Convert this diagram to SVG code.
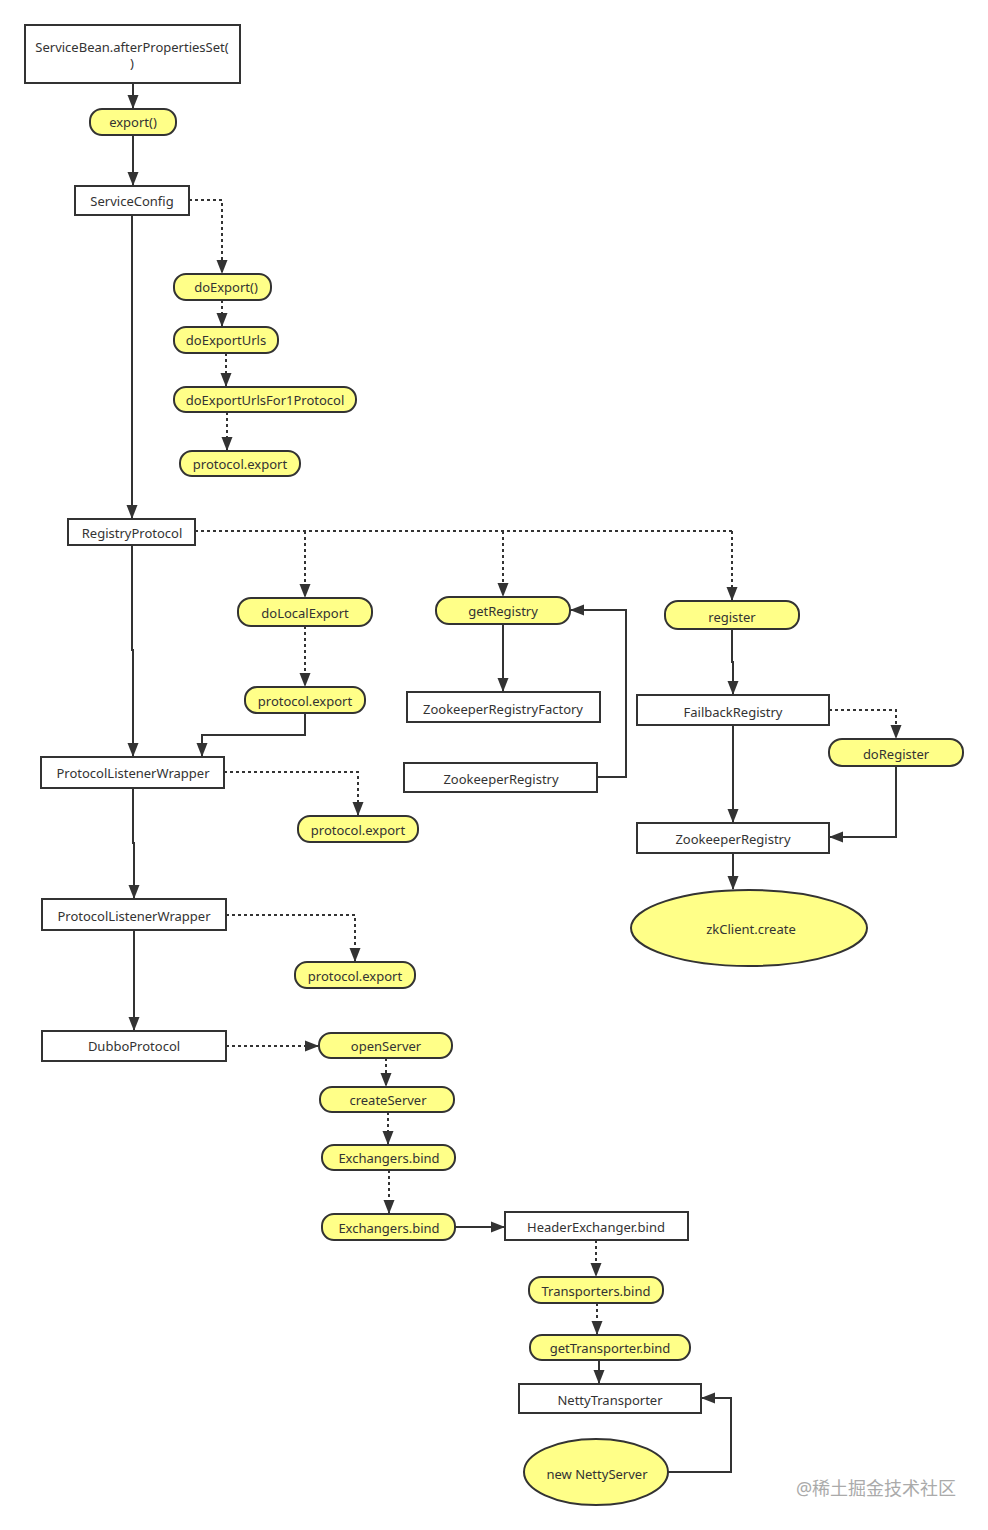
<svg xmlns="http://www.w3.org/2000/svg" width="988" height="1530" viewBox="0 0 988 1530">
<defs>
<marker id="ah" viewBox="0 0 14 12" refX="13" refY="6" markerWidth="14" markerHeight="12" markerUnits="userSpaceOnUse" orient="auto"><path d="M0,0.5 L14,6 L0,11.5 Z" fill="#333"/></marker>
</defs>
<style>
.box{fill:#fff;stroke:#333;stroke-width:2}
.yel{fill:#ffff88;stroke:#333;stroke-width:2}
.t{font-family:"Noto Sans","Open Sans",sans-serif;font-size:13px;fill:#333;text-anchor:middle;dominant-baseline:central}
.s{fill:none;stroke:#333;stroke-width:2;marker-end:url(#ah)}
.d{fill:none;stroke:#333;stroke-width:2;stroke-dasharray:3 3;marker-end:url(#ah)}
.n{fill:none;stroke:#333;stroke-width:2}
.dn{fill:none;stroke:#333;stroke-width:2;stroke-dasharray:3 3}
</style>
<rect width="988" height="1530" fill="#fff"/>
<g id="connectors">
<path class="s" d="M133,83 V108"/>
<path class="s" d="M133,135 V185"/>
<path class="d" d="M189,200 H222 V273"/>
<path class="d" d="M222,300 V326"/>
<path class="d" d="M226,353 V386"/>
<path class="d" d="M227,412 V450"/>
<path class="s" d="M132,215 V518"/>
<path class="dn" d="M195,531 H732"/>
<path class="d" d="M305,531 V597"/>
<path class="d" d="M503,531 V596"/>
<path class="d" d="M732,531 V600"/>
<path class="d" d="M305,626 V686"/>
<path class="s" d="M305,713 V735 H202 V756"/>
<path class="s" d="M132,545 V650 H133 V756"/>
<path class="d" d="M224,772 H358 V815"/>
<path class="s" d="M133,788 V843 H134 V898"/>
<path class="d" d="M226,915 H355 V961"/>
<path class="s" d="M134,930 V1030"/>
<path class="d" d="M226,1046 H318"/>
<path class="d" d="M386,1058 V1086"/>
<path class="d" d="M388,1112 V1144"/>
<path class="d" d="M389,1170 V1213"/>
<path class="s" d="M455,1227 H504"/>
<path class="d" d="M596,1240 V1276"/>
<path class="d" d="M597,1303 V1334"/>
<path class="s" d="M599,1360 V1383"/>
<path class="s" d="M668,1472 H731 V1398 H702"/>
<path class="s" d="M503,624 V691"/>
<path class="s" d="M597,777 H626 V610 H571"/>
<path class="s" d="M732,629 V662 H733 V694"/>
<path class="d" d="M829,710 H896 V738"/>
<path class="s" d="M733,725 V822"/>
<path class="s" d="M896,766 V837 H830"/>
<path class="s" d="M733,853 V889"/>
</g>
<g id="n_servicebean"><rect class="box" x="25" y="25" width="215" height="58"/><text class="t" x="132" y="47">ServiceBean.afterPropertiesSet(</text><text class="t" x="132" y="63">)</text></g>
<g id="n_export"><rect class="yel" x="90" y="109" width="86" height="26" rx="12"/><text class="t" x="133" y="122">export()</text></g>
<g id="n_serviceconfig"><rect class="box" x="75" y="186" width="114" height="29"/><text class="t" x="132" y="201">ServiceConfig</text></g>
<g id="n_doexport"><rect class="yel" x="174" y="274" width="97" height="26" rx="12"/><text class="t" x="226" y="287">doExport()</text></g>
<g id="n_doexporturls"><rect class="yel" x="174" y="327" width="104" height="26" rx="12"/><text class="t" x="226" y="340">doExportUrls</text></g>
<g id="n_doexporturlsfor1"><rect class="yel" x="174" y="387" width="182" height="25" rx="12"/><text class="t" x="265" y="400">doExportUrlsFor1Protocol</text></g>
<g id="n_protoexport1"><rect class="yel" x="180" y="451" width="120" height="25" rx="12"/><text class="t" x="240" y="464">protocol.export</text></g>
<g id="n_registryprotocol"><rect class="box" x="68" y="519" width="127" height="26"/><text class="t" x="132" y="533">RegistryProtocol</text></g>
<g id="n_dolocalexport"><rect class="yel" x="238" y="598" width="134" height="28" rx="13"/><text class="t" x="305" y="613">doLocalExport</text></g>
<g id="n_protoexport2"><rect class="yel" x="245" y="687" width="120" height="26" rx="12"/><text class="t" x="305" y="701">protocol.export</text></g>
<g id="n_getregistry"><rect class="yel" x="436" y="597" width="134" height="27" rx="13"/><text class="t" x="503" y="611">getRegistry</text></g>
<g id="n_zrf"><rect class="box" x="407" y="692" width="193" height="30"/><text class="t" x="503" y="709">ZookeeperRegistryFactory</text></g>
<g id="n_zr1"><rect class="box" x="404" y="763" width="193" height="29"/><text class="t" x="501" y="779">ZookeeperRegistry</text></g>
<g id="n_register"><rect class="yel" x="665" y="601" width="134" height="28" rx="13"/><text class="t" x="732" y="617">register</text></g>
<g id="n_failback"><rect class="box" x="637" y="695" width="192" height="30"/><text class="t" x="733" y="712">FailbackRegistry</text></g>
<g id="n_doregister"><rect class="yel" x="829" y="739" width="134" height="27" rx="13"/><text class="t" x="896" y="754">doRegister</text></g>
<g id="n_zr2"><rect class="box" x="637" y="823" width="192" height="30"/><text class="t" x="733" y="839">ZookeeperRegistry</text></g>
<g id="n_zkclient"><ellipse class="yel" cx="749" cy="928" rx="118" ry="38"/><text class="t" x="751" y="929">zkClient.create</text></g>
<g id="n_plw1"><rect class="box" x="41" y="757" width="183" height="31"/><text class="t" x="133" y="773">ProtocolListenerWrapper</text></g>
<g id="n_protoexport3"><rect class="yel" x="298" y="816" width="120" height="26" rx="12"/><text class="t" x="358" y="830">protocol.export</text></g>
<g id="n_plw2"><rect class="box" x="42" y="899" width="184" height="31"/><text class="t" x="134" y="916">ProtocolListenerWrapper</text></g>
<g id="n_protoexport4"><rect class="yel" x="295" y="962" width="120" height="26" rx="12"/><text class="t" x="355" y="976">protocol.export</text></g>
<g id="n_dubbo"><rect class="box" x="42" y="1031" width="184" height="30"/><text class="t" x="134" y="1046">DubboProtocol</text></g>
<g id="n_openserver"><rect class="yel" x="319" y="1033" width="133" height="25" rx="12"/><text class="t" x="386" y="1046">openServer</text></g>
<g id="n_createserver"><rect class="yel" x="320" y="1087" width="134" height="25" rx="12"/><text class="t" x="388" y="1100">createServer</text></g>
<g id="n_exbind1"><rect class="yel" x="322" y="1145" width="133" height="25" rx="12"/><text class="t" x="389" y="1158">Exchangers.bind</text></g>
<g id="n_exbind2"><rect class="yel" x="322" y="1214" width="133" height="26" rx="12"/><text class="t" x="389" y="1228">Exchangers.bind</text></g>
<g id="n_headerex"><rect class="box" x="505" y="1212" width="183" height="28"/><text class="t" x="596" y="1227">HeaderExchanger.bind</text></g>
<g id="n_transbind"><rect class="yel" x="529" y="1277" width="134" height="26" rx="12"/><text class="t" x="596" y="1291">Transporters.bind</text></g>
<g id="n_gettrans"><rect class="yel" x="530" y="1335" width="160" height="25" rx="12"/><text class="t" x="610" y="1348">getTransporter.bind</text></g>
<g id="n_netty"><rect class="box" x="519" y="1384" width="182" height="29"/><text class="t" x="610" y="1400">NettyTransporter</text></g>
<g id="n_nettyserver"><ellipse class="yel" cx="596" cy="1472" rx="72" ry="33"/><text class="t" x="597" y="1474">new NettyServer</text></g>
<text x="876" y="1488" style="font-family:'Noto Sans','Noto Sans CJK SC',sans-serif;font-size:18px;fill:#aaa;text-anchor:middle;dominant-baseline:central">@稀土掘金技术社区</text>
</svg>
